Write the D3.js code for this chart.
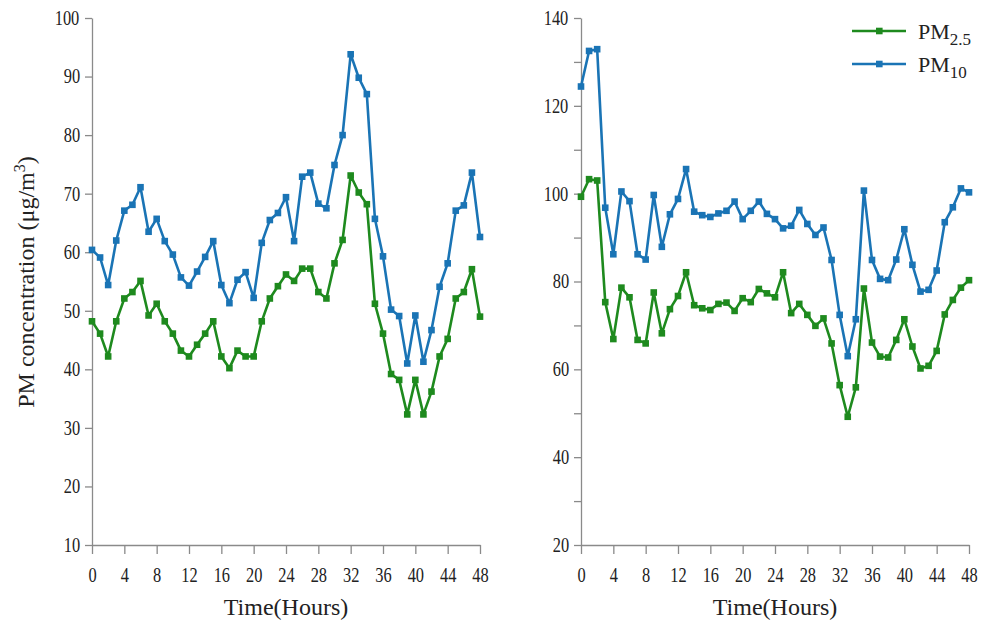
<!DOCTYPE html>
<html lang="en">
<head>
    <meta charset="UTF-8">
    <title>PM concentration</title>
    <script src="https://cdn.jsdelivr.net/npm/d3@7"></script>
    <style>
        body { margin: 0; background: #fff; }
        svg text { font-family: "Liberation Serif", "DejaVu Serif", serif; fill: #222; }
        .axis path, .axis line { stroke: #8a8a8a; stroke-width: 1.3; }
        .axis text {
            font-family: "Liberation Serif", serif; font-size: 20px;
            transform-box: fill-box; transform-origin: center; transform: scaleX(0.82);
        }
    </style>
</head>
<body>
<svg id="chart" width="982" height="624"></svg>
<script>
    // hours 0..48
    var hours = d3.range(0, 49)
    var xTicks = [0, 4, 8, 12, 16, 20, 24, 28, 32, 36, 40, 44, 48]
    var yTicksLeft = [10, 20, 30, 40, 50, 60, 70, 80, 90, 100]
    var yTicksRight = [20, 30, 40, 50, 60, 70, 80, 90, 100, 110, 120, 130, 140]

    var leftPM25 = [48.2, 46.1, 42.2, 48.2, 52.1, 53.2, 55.1, 49.2, 51.2, 48.2, 46.1, 43.2, 42.2, 44.2, 46.1, 48.2,
        42.2, 40.2, 43.2, 42.2, 42.2, 48.2, 52.1, 54.2, 56.2, 55.1, 57.2, 57.2, 53.2, 52.1, 58.1, 62.1, 73.1, 70.2,
        68.2, 51.2, 46.1, 39.2, 38.2, 32.3, 38.2, 32.3, 36.2, 42.2, 45.2, 52.1, 53.2, 57.1, 49]
    var leftPM10 = [60.4, 59.1, 54.4, 62, 67.1, 68.1, 71.1, 63.5, 65.7, 61.9, 59.6, 55.7, 54.3, 56.7, 59.2, 61.9,
        54.4, 51.3, 55.3, 56.6, 52.2, 61.6, 65.5, 66.7, 69.4, 61.9, 72.9, 73.6, 68.3, 67.5, 74.9, 80, 93.8, 89.8,
        87, 65.7, 59.3, 50.2, 49.1, 41, 49.2, 41.3, 46.7, 54.1, 58.1, 67.1, 68, 73.6, 62.6]
    var rightPM25 = [99.3, 103.3, 103, 75.3, 66.9, 78.6, 76.4, 66.7, 65.9, 77.5, 68.2, 73.7, 76.7, 82.1, 74.6, 73.9,
        73.5, 74.9, 75.2, 73.3, 76.2, 75.3, 78.3, 77.3, 76.4, 82.1, 72.8, 74.9, 72.4, 69.9, 71.6, 65.9, 56.4, 49.2,
        55.9, 78.4, 66.1, 62.9, 62.7, 66.7, 71.4, 65.2, 60.2, 60.8, 64.2, 72.5, 75.8, 78.6, 80.3]
    var rightPM10 = [124.4, 132.5, 132.9, 96.8, 86.2, 100.5, 98.3, 86.2, 85, 99.7, 87.9, 95.3, 98.8, 105.6, 95.9, 95.1,
        94.7, 95.5, 96.1, 98.2, 94.2, 96.1, 98.2, 95.4, 94.2, 92.1, 92.7, 96.3, 93.1, 90.6, 92.3, 84.9, 72.4, 63,
        71.4, 100.7, 84.9, 80.6, 80.3, 85, 91.9, 83.8, 77.7, 78.1, 82.5, 93.5, 96.9, 101.2, 100.3]

    var GREEN = '#1e8a1e'
    var BLUE = '#1a74b5'

    var svg = d3.select('#chart')

    function drawPanel (x0, x1, yDomain, yTicks, labelEvery, pm25, pm10) {
        var x = d3.scaleLinear().domain([0, 48]).range([x0, x1])
        var y = d3.scaleLinear().domain(yDomain).range([545, 18])
        var g = svg.append('g')

        g.append('g').attr('class', 'axis')
          .attr('transform', 'translate(0,545)')
          .call(d3.axisBottom(x).tickValues(xTicks).tickSize(9).tickPadding(14).tickSizeOuter(0))

        g.append('g').attr('class', 'axis')
          .attr('transform', 'translate(' + x0 + ',0)')
          .call(d3.axisLeft(y).tickValues(yTicks).tickSize(7).tickPadding(3).tickSizeOuter(0)
            .tickFormat(function (d) { return d % labelEvery === 0 ? d : '' }))

        var line = d3.line()
          .x(function (d, i) { return x(hours[i]) })
          .y(function (d) { return y(d) })

        ;[[pm25, GREEN], [pm10, BLUE]].forEach(function (s) {
            g.append('path').datum(s[0])
              .attr('fill', 'none').attr('stroke', s[1]).attr('stroke-width', 2.6)
              .attr('stroke-linejoin', 'round')
              .attr('d', line)
            g.selectAll(null).data(s[0]).enter().append('rect')
              .attr('x', function (d, i) { return x(hours[i]) - 3.3 })
              .attr('y', function (d) { return y(d) - 3.3 })
              .attr('width', 6.6).attr('height', 6.6)
              .attr('fill', s[1])
        })

        g.append('text')
          .attr('x', (x0 + x1) / 2).attr('y', 615)
          .attr('text-anchor', 'middle').style('font-size', '24px')
          .text('Time(Hours)')
    }

    drawPanel(92, 480, [10, 100], yTicksLeft, 10, leftPM25, leftPM10)
    drawPanel(581, 969, [20, 140], yTicksRight, 20, rightPM25, rightPM10)

    // y title
    var yt = svg.append('text')
      .attr('transform', 'translate(34,282) rotate(-90)')
      .attr('text-anchor', 'middle').style('font-size', '24px')
    yt.append('tspan').text('PM concentration (μg/m')
    yt.append('tspan').attr('dy', -9).style('font-size', '16px').text('3')
    yt.append('tspan').attr('dy', 9).text(')')

    // legend
    var legend = [['2.5', GREEN], ['10', BLUE]]
    legend.forEach(function (l, i) {
        var ly = 31 + i * 33
        svg.append('line').attr('x1', 852).attr('x2', 906).attr('y1', ly).attr('y2', ly)
          .attr('stroke', l[1]).attr('stroke-width', 2.6)
        svg.append('rect').attr('x', 876).attr('y', ly - 3.3).attr('width', 6.6).attr('height', 6.6)
          .attr('fill', l[1])
        var t = svg.append('text').attr('x', 918).attr('y', ly + 8).style('font-size', '22px')
        t.append('tspan').text('PM')
        t.append('tspan').attr('dy', 6).style('font-size', '17px').text(l[0])
    })
</script>
</body>
</html>
